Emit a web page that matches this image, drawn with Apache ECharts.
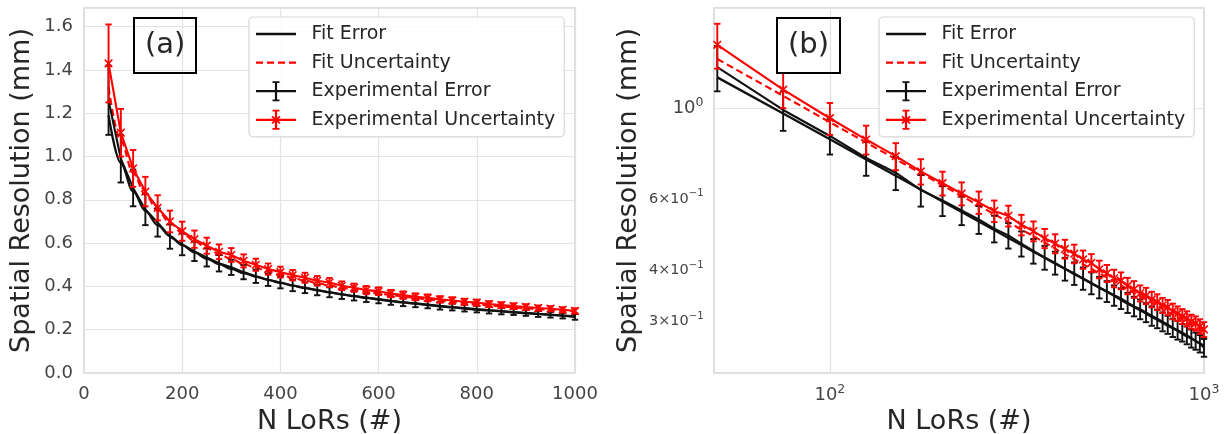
<!DOCTYPE html>
<html><head><meta charset="utf-8">
<script src="https://cdn.jsdelivr.net/npm/echarts@6/dist/echarts.min.js"></script>
<style>html,body{margin:0;padding:0;background:#fff}#c{width:1229px;height:434px}</style>
</head><body><div id="c"></div>
<script>
// ---- data ----
const nLoRs = [50,75,100,125,150,175,200,225,250,275,300,325,350,375,400,425,450,475,500,525,550,575,600,625,650,675,700,725,750,775,800,825,850,875,900,925,950,975,1000];
const fitError = [1.190,0.970,0.839,0.749,0.683,0.632,0.591,0.557,0.528,0.503,0.481,0.462,0.445,0.430,0.416,0.404,0.392,0.382,0.372,0.363,0.355,0.347,0.339,0.332,0.326,0.320,0.314,0.308,0.303,0.298,0.293,0.289,0.285,0.280,0.276,0.273,0.269,0.265,0.262];
const fitUncertainty = [1.320,1.072,0.924,0.824,0.750,0.693,0.647,0.609,0.577,0.550,0.526,0.504,0.486,0.469,0.453,0.439,0.427,0.415,0.404,0.394,0.385,0.376,0.368,0.360,0.353,0.346,0.340,0.334,0.328,0.323,0.317,0.312,0.308,0.303,0.299,0.295,0.291,0.287,0.283];
const expError = [1.26,0.99,0.855,0.755,0.695,0.630,0.594,0.562,0.534,0.507,0.488,0.466,0.447,0.431,0.418,0.404,0.394,0.383,0.373,0.364,0.356,0.348,0.342,0.334,0.327,0.322,0.316,0.310,0.305,0.300,0.295,0.290,0.286,0.282,0.278,0.273,0.269,0.265,0.259];
const expErrorBar = [0.16,0.11,0.085,0.072,0.065,0.056,0.05,0.045,0.042,0.038,0.035,0.033,0.031,0.029,0.027,0.026,0.025,0.024,0.023,0.022,0.021,0.020,0.020,0.019,0.018,0.018,0.017,0.017,0.016,0.016,0.015,0.015,0.015,0.014,0.014,0.014,0.013,0.013,0.013];
const expUncertainty = [1.43,1.11,0.945,0.838,0.763,0.700,0.655,0.618,0.588,0.560,0.545,0.518,0.500,0.480,0.466,0.452,0.440,0.426,0.418,0.403,0.394,0.383,0.378,0.367,0.360,0.352,0.347,0.340,0.335,0.329,0.325,0.318,0.314,0.309,0.305,0.300,0.297,0.292,0.287];
const expUncertaintyBar = [0.18,0.11,0.085,0.068,0.058,0.05,0.044,0.04,0.037,0.034,0.032,0.03,0.028,0.026,0.025,0.024,0.023,0.022,0.021,0.02,0.019,0.019,0.018,0.017,0.017,0.016,0.016,0.015,0.015,0.014,0.014,0.014,0.013,0.013,0.013,0.012,0.012,0.012,0.012];
// tick labels
const linXTicks = [0,200,400,600,800,1000];
const linYTicks = [0,0.2,0.4,0.6,0.8,1.0,1.2,1.4,1.6];
const logXTicks = [100,1000];
const logYTicks = [0.3,0.4,0.6,1];

// ---- styling ----
const FONT = 'DejaVu Sans';
const TXT = '#262626', TICK = '#444';
const BLACK = '#111111', RED = '#ff0000';
const GRIDC = '#e2e2e2';

const pairs = arr => nLoRs.map((x,i)=>[x, arr[i]]);
const triples = (v,e) => nLoRs.map((x,i)=>[x, v[i], e[i]]);

function errBars(name, xi, cap, vals, errs, color, cross){
  return {
    type:'custom', name, xAxisIndex:xi, yAxisIndex:xi, data: triples(vals, errs),
    encode:{x:0, y:1}, silent:true, z:3,
    renderItem(params, api){
      const x = api.value(0), y = api.value(1), e = api.value(2);
      const p = api.coord([x,y]), t = api.coord([x,y+e]), b = api.coord([x,y-e]);
      const st = {stroke:color, lineWidth:1.9};
      const ch = [
        {type:'line', shape:{x1:p[0],y1:t[1],x2:p[0],y2:b[1]}, style:st},
        {type:'line', shape:{x1:p[0]-cap,y1:t[1],x2:p[0]+cap,y2:t[1]}, style:st},
        {type:'line', shape:{x1:p[0]-cap,y1:b[1],x2:p[0]+cap,y2:b[1]}, style:st}
      ];
      if (cross){
        const s = 3.8, cs = {stroke:color, lineWidth:1.6};
        ch.push({type:'line', shape:{x1:p[0]-s,y1:p[1]-s,x2:p[0]+s,y2:p[1]+s}, style:cs});
        ch.push({type:'line', shape:{x1:p[0]-s,y1:p[1]+s,x2:p[0]+s,y2:p[1]-s}, style:cs});
      }
      return {type:'group', children:ch};
    }
  };
}

function panelSeries(i, smooth){
  return [
    {type:'line', name:'Fit Error', xAxisIndex:i, yAxisIndex:i, data:pairs(fitError), symbol:'none',
     smooth: smooth ? 0.35 : false, smoothMonotone:'x',
     lineStyle:{color:BLACK, width:2.3}, itemStyle:{color:BLACK}, z:2},
    {type:'line', name:'Fit Uncertainty', xAxisIndex:i, yAxisIndex:i, data:pairs(fitUncertainty), symbol:'none',
     smooth: smooth ? 0.35 : false, smoothMonotone:'x',
     lineStyle:{color:RED, width:2.1, type:[7,4]}, itemStyle:{color:RED}, z:2},
    {type:'line', name:'Experimental Error', xAxisIndex:i, yAxisIndex:i, data:pairs(expError), symbol:'none',
     lineStyle:{color:BLACK, width:2.1}, itemStyle:{color:BLACK}, z:3},
    errBars('Experimental Error bars', i, 3.2, expError, expErrorBar, BLACK, false),
    {type:'line', name:'Experimental Uncertainty', xAxisIndex:i, yAxisIndex:i, data:pairs(expUncertainty), symbol:'none',
     lineStyle:{color:RED, width:2.1}, itemStyle:{color:RED}, z:4},
    Object.assign(errBars('Experimental Uncertainty bars', i, 3.2, expUncertainty, expUncertaintyBar, RED, true), {z:4})
  ];
}

// legend icons drawn in a 40x20 box (M0,0z / M40,20z only fix the bounding box)
const iconFit = 'path://M0,0z M40,20z M0,8.85h40v2.3H0z';
const iconDash = 'path://M0,0z M40,20z M0,8.9h7v2.2H0z M11,8.9h7v2.2h-7z M22,8.9h7v2.2h-7z M33,8.9h7v2.2h-7z';
const iconErr = 'path://M0,8.85h40v2.3H0z M18.9,0h2.2v20h-2.2z M16.5,0h7v1.8h-7z M16.5,18.2h7v1.8h-7z';
const iconUnc = 'path://M0,8.85h40v2.3H0z M18.9,0h2.2v20h-2.2z M16.5,0h7v1.8h-7z M16.5,18.2h7v1.8h-7z M15.4,7.1L16.6,5.9L24.6,12.9L23.4,14.1z M23.4,5.9L24.6,7.1L16.6,14.1L15.4,12.9z';
const legendData = [
  {name:'Fit Error', icon:iconFit}, {name:'Fit Uncertainty', icon:iconDash},
  {name:'Experimental Error', icon:iconErr}, {name:'Experimental Uncertainty', icon:iconUnc}
];
function legend(left){
  return {left, top:17, orient:'vertical', itemWidth:40, itemHeight:20, itemGap:8.6,
    padding:[7,9,7,7], borderColor:'#d8d8d8', borderWidth:1.2, borderRadius:4,
    backgroundColor:'rgba(255,255,255,0.85)', selectedMode:false,
    textStyle:{fontSize:19, color:TXT, fontFamily:FONT, padding:[0,0,0,10.5]}, data:legendData};
}

const supRich = {
  n:{fontSize:18, color:TICK, fontFamily:FONT, lineHeight:24},
  s:{fontSize:12.5, color:TICK, fontFamily:FONT, verticalAlign:'top'},
  m:{fontSize:14.5, color:TICK, fontFamily:FONT, lineHeight:20},
  ms:{fontSize:10, color:TICK, fontFamily:FONT, verticalAlign:'top'}
};
const splitL = {show:true, lineStyle:{color:GRIDC, width:1.2}};
const gridCommon = {show:true, borderColor:'#d2d2d2', borderWidth:1.5, backgroundColor:'#fff', outerBoundsMode:'none', containLabel:false};
const titleBox = (text, left) => ({text, left, top:18, borderColor:'#000', borderWidth:2, padding:[10,11,10,11],
  textStyle:{fontSize:29, fontWeight:'normal', color:TXT, fontFamily:FONT, lineHeight:35}});
const yName = {fontSize:27, color:TXT, fontFamily:FONT};

const option = {
  animation:false,
  backgroundColor:'#fff',
  textStyle:{fontFamily:FONT},
  title:[titleBox('(a)', 134), titleBox('(b)', 777)],
  legend:[legend(249), legend(879)],
  grid:[
    Object.assign({left:84, right:654, top:8, bottom:61}, gridCommon),
    Object.assign({left:714, right:25, top:8, bottom:61}, gridCommon)
  ],
  xAxis:[
    {gridIndex:0, type:'value', min:linXTicks[0], max:linXTicks[linXTicks.length-1], interval:200,
     axisLine:{show:false}, axisTick:{show:false}, splitLine:splitL,
     axisLabel:{fontSize:18, color:TICK, fontFamily:FONT, margin:12, customValues:linXTicks,
       formatter: v => String(v)},
     name:'N LoRs (#)', nameLocation:'middle', nameGap:35, nameTextStyle:yName},
    {gridIndex:1, type:'log', logBase:10, min:49, max:1000,
     axisLine:{show:false}, axisTick:{show:false}, splitLine:splitL,
     axisLabel:{margin:10, customValues:logXTicks, rich:supRich,
       formatter: v => '{n|10}{s|' + Math.round(Math.log10(v)) + '}'},
     name:'N LoRs (#)', nameLocation:'middle', nameGap:35, nameTextStyle:yName}
  ],
  yAxis:[
    {gridIndex:0, type:'value', min:0, max:1.686, interval:0.2,
     axisLine:{show:false}, axisTick:{show:false}, splitLine:splitL,
     axisLabel:{fontSize:18, color:TICK, fontFamily:FONT, margin:11, customValues:linYTicks,
       formatter: v => v.toFixed(1)},
     name:'Spatial Resolution (mm)', nameLocation:'middle', nameGap:49, nameTextStyle:yName},
    {gridIndex:1, type:'log', logBase:10, min:0.2245, max:1.76,
     axisLine:{show:false}, axisTick:{show:false}, splitLine:splitL,
     axisLabel:{margin:10.5, customValues:logYTicks, rich:supRich,
       formatter: v => Math.abs(v-1) < 1e-6 ? '{n|10}{s|0}' : '{m|' + Math.round(v*10) + '×10}{ms|−1}'},
     name:'Spatial Resolution (mm)', nameLocation:'middle', nameGap:72, nameTextStyle:yName}
  ],
  series:[...panelSeries(0, true), ...panelSeries(1, false)]
};
const chart = echarts.init(document.getElementById('c'));
chart.setOption(option);
</script></body></html>
